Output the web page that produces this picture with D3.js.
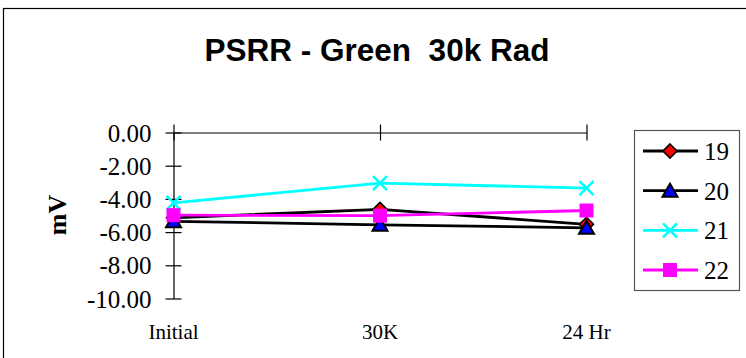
<!DOCTYPE html>
<html>
<head>
<meta charset="utf-8">
<script src="https://cdn.jsdelivr.net/npm/d3@7"></script>
<style>
  html, body { margin: 0; padding: 0; background: #fff; }
  svg { display: block; }
</style>
</head>
<body>
<script>
// Categories along the x axis
const categories = ["Initial", "30K", "24 Hr"];
// Y axis tick values (mV)
const yTicks = [0, -2, -4, -6, -8, -10];
// Series names (device numbers)
const seriesNames = ["19", "20", "21", "22"];
// Measured PSRR per device, in mV
const s19 = [-5.14, -4.63, -5.53];
const s20 = [-5.35, -5.56, -5.74];
const s21 = [-4.24, -3.05, -3.35];
const s22 = [-4.98, -5.01, -4.70];

const series = [
  { name: seriesNames[0], values: s19, line: "#000000", marker: "diamond", fill: "#ff0000" },
  { name: seriesNames[1], values: s20, line: "#000000", marker: "triangle", fill: "#0000ff" },
  { name: seriesNames[2], values: s21, line: "#00ffff", marker: "cross", fill: "none" },
  { name: seriesNames[3], values: s22, line: "#ff00ff", marker: "square", fill: "#ff00ff" }
];

const W = 746, H = 358;
const svg = d3.select("body").append("svg").attr("width", W).attr("height", H);

const serif = "'Liberation Serif', 'Times New Roman', serif";

// Outer chart frame
svg.append("rect")
  .attr("x", 3.5).attr("y", 8.5)
  .attr("width", 800).attr("height", 400)
  .attr("fill", "none").attr("stroke", "#000").attr("stroke-width", 1.2);

// Title (double space kept)
svg.append("text")
  .attr("x", 377).attr("y", 61)
  .attr("text-anchor", "middle")
  .attr("font-family", "'Liberation Sans', Arial, sans-serif")
  .attr("font-weight", "bold")
  .attr("font-size", 31.5)
  .style("white-space", "pre")
  .attr("xml:space", "preserve")
  .text("PSRR - Green  30k Rad");

const x = d3.scalePoint().domain(categories).range([173.5, 586.5]);
const y = d3.scaleLinear().domain([-10, 0]).range([298.5, 132.5]);

// Y axis with ticks crossing the axis line
const yAxis = svg.append("g")
  .attr("transform", `translate(${x(categories[0])},0)`)
  .call(d3.axisLeft(y).tickValues(yTicks).tickFormat(d => d.toFixed(2))
    .tickSizeInner(8).tickSizeOuter(0).tickPadding(14));
yAxis.attr("font-family", serif).attr("font-size", 25);
yAxis.select(".domain").attr("stroke", "#000").attr("stroke-width", 1.2);
yAxis.selectAll(".tick line").attr("x1", 8).attr("stroke", "#000").attr("stroke-width", 1.2);
yAxis.selectAll(".tick text")
  .attr("font-family", serif).attr("font-size", 25).attr("fill", "#000")
  .attr("dy", "0.34em");

// Category axis sitting on the zero line, ticks crossing it
const xAxis = svg.append("g")
  .attr("transform", `translate(0,${y(0)})`)
  .call(d3.axisTop(x).tickFormat("").tickSizeInner(8).tickSizeOuter(0));
xAxis.select(".domain").attr("stroke", "#000").attr("stroke-width", 1.2);
xAxis.selectAll(".tick line").attr("y1", 8).attr("stroke", "#000").attr("stroke-width", 1.2);

// Category labels below the plot
svg.append("g").selectAll("text")
  .data(categories)
  .join("text")
  .attr("x", d => x(d))
  .attr("y", 339)
  .attr("text-anchor", "middle")
  .attr("font-family", serif)
  .attr("font-size", 21)
  .style("white-space", "pre")
  .text(d => d);

// Y axis title
svg.append("text")
  .attr("transform", "translate(66,215) rotate(-90)")
  .attr("text-anchor", "middle")
  .attr("font-family", serif)
  .attr("font-weight", "bold")
  .attr("font-size", 26)
  .text("mV");

// Marker drawing
function drawMarker(g, type, fill, stroke) {
  if (type === "diamond") {
    g.append("path").attr("d", "M0,-7L7,0L0,7L-7,0Z")
      .attr("fill", fill).attr("stroke", "#000").attr("stroke-width", 1.6);
  } else if (type === "triangle") {
    g.append("path").attr("d", "M0,-7L7.5,6L-7.5,6Z")
      .attr("fill", fill).attr("stroke", "#000").attr("stroke-width", 2)
      .attr("stroke-linejoin", "miter");
  } else if (type === "cross") {
    g.append("path").attr("d", "M-7,-7L7,7M7,-7L-7,7")
      .attr("fill", "none").attr("stroke", stroke).attr("stroke-width", 2.6);
  } else if (type === "square") {
    g.append("rect").attr("x", -7).attr("y", -7).attr("width", 14).attr("height", 14)
      .attr("fill", fill);
  }
}

const line = d3.line().x((d, i) => x(categories[i])).y(d => y(d));

const plot = svg.append("g");
series.forEach(s => {
  const g = plot.append("g");
  g.append("path")
    .datum(s.values)
    .attr("d", line)
    .attr("fill", "none")
    .attr("stroke", s.line)
    .attr("stroke-width", 2.8);
  s.values.forEach((v, i) => {
    const m = g.append("g").attr("transform", `translate(${x(categories[i])},${y(v)})`);
    drawMarker(m, s.marker, s.fill, s.line);
  });
});

// Legend
const legend = svg.append("g");
legend.append("rect")
  .attr("x", 634.5).attr("y", 130.5).attr("width", 105).attr("height", 160)
  .attr("fill", "#fff").attr("stroke", "#555").attr("stroke-width", 1.2);
const legY = d3.scalePoint().domain(seriesNames).range([151, 270]);
series.forEach(s => {
  const row = legend.append("g").attr("transform", `translate(0,${legY(s.name)})`);
  row.append("line").attr("x1", 643).attr("x2", 698).attr("y1", 0).attr("y2", 0)
    .attr("stroke", s.line).attr("stroke-width", 2.8);
  const m = row.append("g").attr("transform", "translate(670,0)");
  drawMarker(m, s.marker, s.fill, s.line);
  row.append("text")
    .attr("x", 704).attr("y", 9)
    .attr("font-family", serif).attr("font-size", 25)
    .text(s.name);
});
</script>
</body>
</html>
